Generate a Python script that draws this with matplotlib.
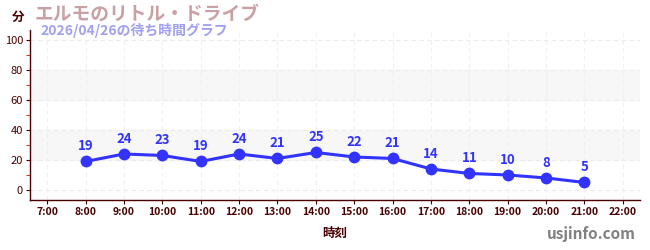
import matplotlib
matplotlib.use("Agg")
import matplotlib.pyplot as plt

plt.rcParams['font.family'] = ['Noto Sans CJK JP', 'DejaVu Sans']

# data
hours = [8, 9, 10, 11, 12, 13, 14, 15, 16, 17, 18, 19, 20, 21]
waits = [19, 24, 23, 19, 24, 21, 25, 22, 21, 14, 11, 10, 8, 5]
tick_hours = list(range(7, 23))
tick_labels = [f"{h}:00" for h in tick_hours]

title = "エルモのリトル・ドライブ"
subtitle = "2026/04/26の待ち時間グラフ"

axis_col = "#4a0000"
line_col = "#3333ff"

fig = plt.figure(figsize=(6.5, 2.5), dpi=100)
ax = fig.add_axes([30 / 650, 50 / 250, 610 / 650, 170 / 250])

ax.set_xlim(6.55, 22.45)
ax.set_ylim(-6.7, 106.7)

# shaded bands
for lo, hi in [(20, 40), (60, 80)]:
    ax.axhspan(lo, hi, color="#f7f7f7", zorder=0)

for y in range(0, 101, 20):
    ax.axhline(y, color="#ebebeb", lw=0.8, ls=(0, (4, 3)), zorder=1)
for h in tick_hours:
    ax.axvline(h, color="#f0f0f0", lw=0.8, ls=(0, (4, 3)), zorder=1)

ax.plot(hours, waits, color=line_col, lw=2.2, marker="o", markersize=7.5, zorder=3)
for h, w in zip(hours, waits):
    ax.annotate(str(w), (h, w), textcoords="offset points", xytext=(0, 6),
                ha="center", va="bottom", fontsize=9.5, fontweight="bold",
                color=line_col)

ax.set_xticks(tick_hours)
ax.set_xticklabels(tick_labels, fontsize=7.5, fontweight="bold", color=axis_col)
ax.set_yticks(range(0, 101, 20))
ax.set_yticklabels([str(v) for v in range(0, 101, 20)], fontsize=8, color=axis_col)
ax.set_yticks(range(10, 100, 20), minor=True)
ax.tick_params(axis="y", which="minor", length=3, color="#dd0000")
ax.tick_params(axis="both", which="major", length=3, color=axis_col, pad=2)

for s in ["top", "right"]:
    ax.spines[s].set_visible(False)
for s in ["left", "bottom"]:
    ax.spines[s].set_color(axis_col)
    ax.spines[s].set_linewidth(1)

ax.set_xlabel("時刻", fontsize=9, fontweight="bold", color=axis_col, labelpad=7)

fig.text(18 / 650, 1 - 17 / 250, "分", fontsize=9, fontweight="bold",
         color=axis_col, ha="center", va="center")
fig.text(35 / 650, 1 - 14 / 250, title, fontsize=13.5, fontweight="bold",
         color="#c9a0a3", ha="left", va="center")
fig.text(40 / 650, 1 - 31 / 250, subtitle, fontsize=10, fontweight="bold",
         color="#9fa0f0", ha="left", va="center")
fig.text(636 / 650, 1 - 234 / 250, "usjinfo.com", fontsize=11, fontweight="bold",
         color="#808080", ha="right", va="center")

fig.savefig("out.png", dpi=100)
